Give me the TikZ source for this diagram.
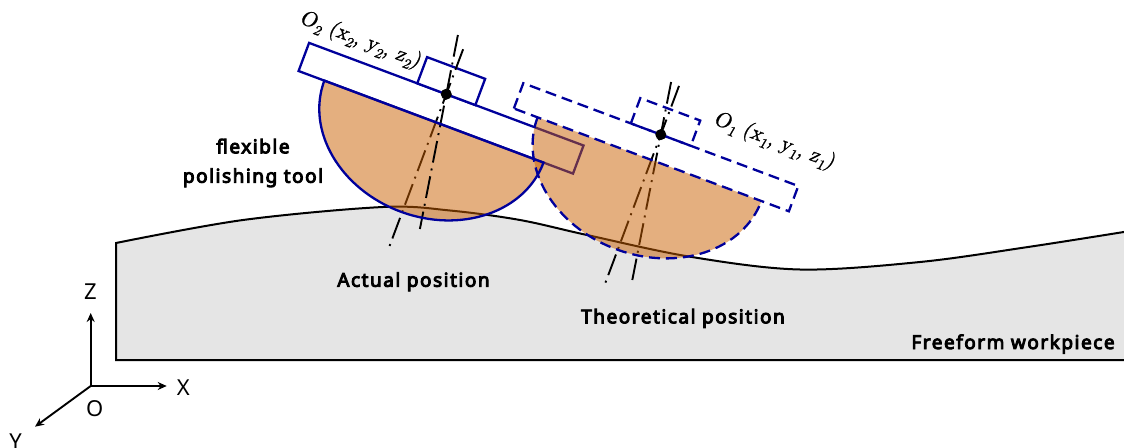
\documentclass[tikz,border=0pt]{standalone}
\usepackage{fontspec}
\usetikzlibrary{arrows.meta}
\newfontfamily\lblfont[FakeBold=5,LetterSpace=8.0]{Noto Sans}
\newfontfamily\axfont{Noto Sans}
\newfontfamily\coordfont[FakeBold=1]{lmromanslant10-regular.otf}
\definecolor{toolblue}{RGB}{0,0,155}
\definecolor{padorange}{RGB}{201,95,0}
\definecolor{workgray}{RGB}{229,229,229}
\newcommand{\lowsub}[1]{\raisebox{-0.25em}{\fontsize{14.5}{15}\selectfont #1}}

\begin{document}
\begin{tikzpicture}[x=1pt,y=1pt,
  toolline/.style={draw=toolblue, line width=2.3pt},
  ghostline/.style={draw=toolblue, line width=2.3pt, dash pattern=on 11pt off 6pt},
  padfill/.style={fill=padorange, fill opacity=0.5},
  axisline/.style={line width=1.9pt, dash pattern=on 22pt off 6pt on 2pt off 6pt},
  caption/.style={font=\lblfont\fontsize{19}{29.4}\selectfont, inner sep=0pt},
  axislabel/.style={font=\axfont\fontsize{22}{26}\selectfont, inner sep=0pt},
  coordlabel/.style={font=\coordfont\fontsize{21.3}{25}\selectfont, inner sep=0pt, rotate=-20.5},
  coordarrow/.style={line width=1.9pt, -{Stealth[length=9pt,width=8pt]}},
  pivot/.style={circle, fill=black, inner sep=0pt, minimum size=11pt}
]
\useasboundingbox (0,0) rectangle (1124,-447);

% freeform workpiece
\draw[fill=workgray, line width=2pt] (116,-360) -- plot[smooth, tension=0.55] coordinates {
  (116,-243) (243,-220) (383,-207) (450,-210.5) (520,-220)
  (587,-235) (690,-256.7) (800,-269.5) (920,-262) (1028,-247)
  (1130,-231)} -- (1130,-360) -- cycle;

% actual tool: holder plate and spindle block
\begin{scope}[shift={(446.3,-94.2)}, rotate=-20.5]
  \coordinate (O2) at (0,0);
  \coordinate (A-top) at (0,48);
  \coordinate (A-bot) at (0,-168);
  \filldraw[toolline, fill=white] (-146.5,-30) rectangle (146.5,0);
  \filldraw[toolline, fill=white] (-31,0) rectangle (31,28);
\end{scope}

% theoretical tool frame
\begin{scope}[shift={(660.8,-134.6)}, rotate=-20.5]
  \coordinate (O1) at (0,0);
  \coordinate (T-top) at (0,52);
  \coordinate (T-bot) at (0,-164);
\end{scope}
\coordinate (T-ntop) at (671.1,-82);
\coordinate (T-nbot) at (632.3,-280);
\coordinate (A-ntop) at (457.9,-35);
\coordinate (A-nbot) at (419.9,-229);

% axes lying under the pads
\draw[axisline] (A-top) -- (A-bot);
\draw[axisline] (T-top) -- (T-bot);
\draw[axisline] (T-ntop) -- (T-nbot);

% translucent polishing pads
\begin{scope}[shift={(446.3,-94.2)}, rotate=-20.5]
  \fill[padfill] (-119,-30) arc[start angle=180, end angle=360, x radius=117, y radius=96] -- cycle;
\end{scope}
\begin{scope}[shift={(660.8,-134.6)}, rotate=-20.5]
  \fill[padfill] (-121.5,-27) arc[start angle=180, end angle=360, x radius=119.5, y radius=96] -- cycle;
\end{scope}

% normal line drawn over the actual pad
\draw[axisline] (A-ntop) -- (A-nbot);

% outlines
\begin{scope}[shift={(446.3,-94.2)}, rotate=-20.5]
  \draw[toolline] (-119,-30) arc[start angle=180, end angle=360, x radius=117, y radius=96] -- cycle;
\end{scope}
\begin{scope}[shift={(660.8,-134.6)}, rotate=-20.5]
  \draw[ghostline] (-146.8,-27) rectangle (146.8,0);
  \draw[ghostline] (-32,0) rectangle (32,27);
  \draw[ghostline] (-121.5,-27) arc[start angle=180, end angle=360, x radius=119.5, y radius=96];
\end{scope}

% tool centre points
\node[pivot] (O2dot) at (O2) {};
\node[pivot] (O1dot) at (O1) {};

\node[coordlabel] (O2lbl) at (360,-40) {O\lowsub{2} (x\lowsub{2}, y\lowsub{2}, z\lowsub{2})};
\node[coordlabel] (O1lbl) at (774,-141) {O\lowsub{1} (x\lowsub{1}, y\lowsub{1}, z\lowsub{1})};

% captions
\node[caption, align=center] (toolcap) at (253,-163) {flexible\\polishing tool};
\node[caption, anchor=base] (actcap) at (413.5,-286.7) {Actual position};
\node[caption, anchor=base] (theocap) at (683,-323.3) {Theoretical position};
\node[caption, anchor=base] (workcap) at (1013,-349) {Freeform workpiece};

% coordinate system
\coordinate (origin) at (90.7,-386);
\coordinate (zend) at (90.7,-313);
\coordinate (xend) at (166.7,-386);
\coordinate (yend) at (35,-426.7);
\draw[coordarrow] (origin) -- (zend);
\draw[coordarrow] (origin) -- (xend);
\draw[coordarrow] (origin) -- (yend);
\node[axislabel, anchor=base] (zlbl) at (90.5,-299.3) {Z};
\node[axislabel, anchor=base] (xlbl) at (183.3,-395) {X};
\node[axislabel, anchor=base] (olbl) at (94.8,-416.7) {O};
\node[axislabel, anchor=base] (ylbl) at (15.5,-449.3) {Y};
\end{tikzpicture}
\end{document}
